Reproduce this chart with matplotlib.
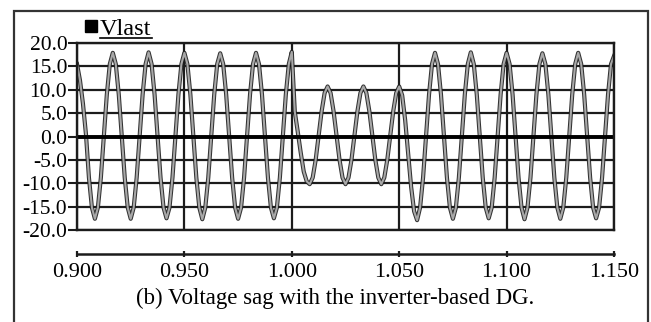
#!/usr/bin/env python
# -*- coding: UTF-8 -*-

import numpy as np
import matplotlib
matplotlib.use('Agg')
import matplotlib.pyplot as plt
from matplotlib.patches import Rectangle
from matplotlib.lines import Line2D

# sampled Vlast trace, 12 samples per 60 Hz cycle starting at t = 0.900 s
t_start = 0.900
t_step = 1.0 / 720

pre_sag = [15.5, 12.0, 7.0, 0.5, -8.8, -15.2, -17.6, -15.2, -8.8, 0.0, 9.0, 15.5,
           17.9, 15.5, 9.0, 0.0, -8.8, -15.2, -17.6, -15.2, -8.8, 0.0, 9.0, 15.5,
           18.0, 15.5, 9.0, 0.0, -8.8, -15.2, -17.5, -15.2, -8.8, 0.0, 9.0, 15.5,
           17.9, 15.5, 9.0, 0.0, -8.8, -15.2, -17.7, -15.2, -8.8, 0.0, 9.0, 15.5,
           17.8, 15.5, 9.0, 0.0, -8.8, -15.2, -17.6, -15.2, -8.8, 0.0, 9.0, 15.5,
           17.9, 15.5, 9.0, 0.0, -8.8, -15.2, -17.5, -15.2, -8.8, 0.0, 9.0, 15.5,
           18.1]
sag = [5.3, 1.0, -3.5, -7.5, -9.6, -10.2,
       -8.8, -5.0, 0.2, 5.4, 9.3, 10.7,
       9.3, 5.4, 0.2, -5.0, -8.8, -10.2,
       -8.8, -5.0, 0.2, 5.4, 9.3, 10.7,
       9.3, 5.4, 0.2, -5.0, -8.8, -10.2,
       -8.8, -5.0, 0.2, 5.4, 9.3, 10.7]
post_sag = [8.8, 3.5, -3.6, -10.8, -16.0, -17.9,
            -15.2, -8.8, 0.0, 9.0, 15.5,
            17.9, 15.5, 9.0, 0.0, -8.8, -15.2, -17.6, -15.2, -8.8, 0.0, 9.0, 15.5,
            18.0, 15.5, 9.0, 0.0, -8.8, -15.2, -17.5, -15.2, -8.8, 0.0, 9.0, 15.5,
            17.9, 15.5, 9.0, 0.0, -8.8, -15.2, -17.7, -15.2, -8.8, 0.0, 9.0, 15.5,
            17.8, 15.5, 9.0, 0.0, -8.8, -15.2, -17.6, -15.2, -8.8, 0.0, 9.0, 15.5,
            17.9, 15.5, 9.0, 0.0, -8.8, -15.2, -17.5, -15.2, -8.8, 0.0, 9.0, 15.5,
            17.2]

y_ticks = [20.0, 15.0, 10.0, 5.0, 0.0, -5.0, -10.0, -15.0, -20.0]
x_ticks = [0.900, 0.950, 1.000, 1.050, 1.100, 1.150]
legend_name = 'Vlast'
caption = '(b) Voltage sag with the inverter-based DG.'

vlast = np.array(pre_sag + sag + post_sag)
t = t_start + t_step * np.arange(len(vlast))

plt.rcParams['font.family'] = ['Liberation Serif', 'DejaVu Serif']
ink = '#1c1c1c'
W, H = 651, 322

fig = plt.figure(figsize=(W / 100.0, H / 100.0), dpi=100)

# main plot area (pixel box 77..614 x 43..230)
ax = fig.add_axes([77.0 / W, 1 - 230.0 / H, 537.0 / W, 187.0 / H])
ax.plot(t, vlast, color='#333333', lw=3.0, solid_joinstyle='round', zorder=2)
ax.plot(t, vlast, color='#a8a8a8', lw=1.5, solid_joinstyle='round', zorder=3)
ax.set_xlim(x_ticks[0], x_ticks[-1])
ax.set_ylim(-20, 20)
ax.set_yticks(y_ticks)
ax.set_yticklabels(['%.1f' % v for v in y_ticks], fontsize=15.5)
ax.set_xticks(x_ticks)
ax.set_xticklabels([])
ax.tick_params(axis='x', length=0)
ax.tick_params(axis='y', length=6.5, width=1.5, color=ink, pad=0.5, labelcolor='black')
ax.grid(True, color=ink, lw=1.6, zorder=4)
ax.axhline(0, color='black', lw=2.8, zorder=5)
ax.set_axisbelow(False)
for s in ax.spines.values():
    s.set_linewidth(1.7)
    s.set_color(ink)
    s.set_zorder(6)

# separate time scale strip below the plot
ax2 = fig.add_axes([77.0 / W, 1 - 254.0 / H, 537.0 / W, 0.001])
ax2.set_xlim(x_ticks[0], x_ticks[-1])
ax2.set_xticks(x_ticks)
ax2.set_xticklabels(['%.3f' % v for v in x_ticks], fontsize=16)
ax2.set_yticks([])
ax2.patch.set_visible(False)
for k in ['top', 'left', 'right']:
    ax2.spines[k].set_visible(False)
ax2.spines['bottom'].set_linewidth(1.8)
ax2.spines['bottom'].set_color(ink)
ax2.tick_params(axis='x', direction='inout', length=5, width=1.6, color=ink, pad=4)

# legend entry: black square + underlined name
fig.add_artist(Rectangle((85.0 / W, 1 - 32.0 / H), 12.0 / W, 12.0 / H,
                         transform=fig.transFigure, color='black'))
leg = fig.text(100.0 / W, 1 - 35.0 / H, legend_name, fontsize=17.5, va='baseline')

fig.text(335.0 / W, 1 - 298.0 / H, caption, fontsize=16.5, ha='center', va='center')

# outer frame
fig.add_artist(Rectangle((14.0 / W, -0.1), 634.0 / W, 1.1 - 11.0 / H,
                         transform=fig.transFigure, fill=False, lw=1.6, edgecolor='#333333'))

fig.canvas.draw()
bb = leg.get_window_extent().transformed(fig.transFigure.inverted())
fig.add_artist(Line2D([bb.x0, bb.x1], [1 - 38.0 / H] * 2, transform=fig.transFigure,
                      color='black', lw=1.2))

fig.savefig('out.png', dpi=100)
